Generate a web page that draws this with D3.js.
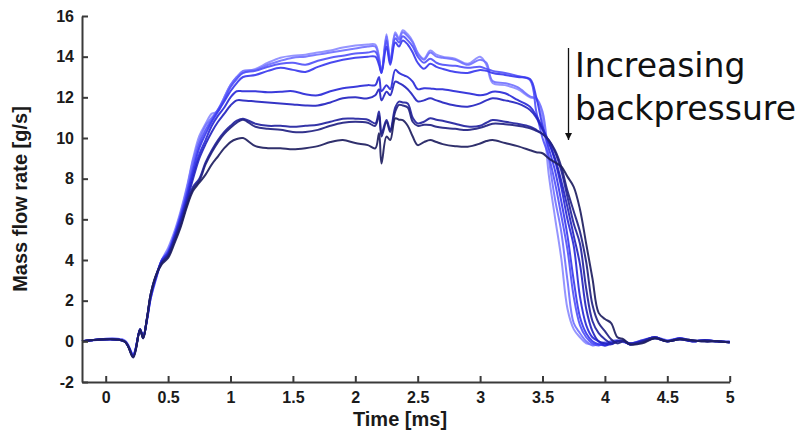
<!DOCTYPE html>
<html>
    <head>
        <meta charset="utf-8">
        <title>Mass flow rate vs time</title>
        <script src="https://d3js.org/d3.v7.min.js"></script>
        <style>
            body {
                margin: 0;
                background: #ffffff;
                overflow: hidden;
            }
            svg {
                display: block;
            }
            .axis path,
            .axis line {
                stroke: #3a3a3a;
                stroke-width: 2px;
            }
            .axis text {
                font-family: 'Liberation Sans', Arial, sans-serif;
                font-weight: bold;
                font-size: 16px;
                fill: #1a1a1a;
            }
            .title {
                font-family: 'Liberation Sans', Arial, sans-serif;
                font-weight: bold;
                font-size: 20px;
                fill: #1a1a1a;
            }
            .note {
                font-family: 'DejaVu Sans', Verdana, sans-serif;
                font-size: 33px;
                fill: #111;
            }
        </style>
    </head>
    <body>
        <script>
            // time axis [ms], shared by every run
            const time = [
                -0.19, 0.15, 0.22, 0.275, 0.3, 0.33, 0.36, 0.4, 0.45,
                0.5, 0.55, 0.6, 0.65, 0.7, 0.75, 0.8, 0.85, 0.9, 0.95, 1.0, 1.05, 1.1,
                1.2, 1.3, 1.4, 1.5, 1.6, 1.7, 1.8, 1.9, 2.0, 2.1,
                2.16, 2.19, 2.21, 2.25, 2.28, 2.32, 2.35, 2.38, 2.42, 2.46, 2.5, 2.55,
                2.6, 2.65, 2.7, 2.8, 2.9, 3.0, 3.05, 3.1, 3.2, 3.3, 3.4,
                3.45, 3.5, 3.55, 3.6, 3.65, 3.7, 3.75, 3.8, 3.85, 3.9, 3.95, 4.0, 4.05, 4.1,
                4.15, 4.2, 4.3, 4.4, 4.5, 4.6, 4.7, 4.8, 4.9, 5.0,
            ];

            // mass flow rate [g/s], lowest backpressure first
            const bp1 = [
                0, 0.05, -0.6, 0.5, 0.3, 1.0, 2.1, 3.0, 4.0,
                4.6, 5.4, 6.4, 7.6, 9.0, 10.1, 10.7, 11.2, 11.3, 12.0, 12.6, 13.0, 13.2,
                13.4, 13.7, 13.95, 14.05, 14.1, 14.2, 14.3, 14.45, 14.55, 14.6,
                14.6, 14.0, 13.2, 15.1, 13.7, 15.2, 14.9, 15.3, 15.1, 14.75, 14.2, 13.9,
                14.3, 14.1, 14.0, 13.9, 13.65, 14.0, 13.6, 12.7, 12.6, 12.4, 12.0,
                11.9, 11.0, 8.2, 6.1, 4.1, 1.6, 0.6, 0.2, -0.1, -0.15, -0.1, -0.05, -0.1, 0.0,
                -0.05, -0.1, 0.05, 0.15, 0.0, 0.1, 0.0, 0.05, 0.0, -0.05,
            ];
            const bp2 = [
                0, 0.05, -0.65, 0.55, 0.25, 1.0, 2.1, 3.0, 4.0,
                4.5, 5.3, 6.3, 7.5, 8.9, 9.9, 10.6, 11.0, 11.4, 12.0, 12.6, 13.0, 13.3,
                13.35, 13.6, 13.8, 13.95, 14.0, 14.1, 14.2, 14.3, 14.4, 14.5,
                14.5, 13.9, 13.2, 15.0, 13.8, 15.1, 14.85, 15.2, 15.0, 14.7, 14.15, 13.85,
                14.2, 14.0, 13.95, 13.85, 13.6, 13.85, 13.7, 12.8, 12.7, 12.5, 12.05,
                11.95, 11.3, 9.0, 7.0, 5.4, 3.0, 0.9, 0.4, 0.0, -0.2, -0.15, -0.1, -0.05, 0.0,
                0.0, -0.15, 0.0, 0.2, 0.0, 0.15, 0.0, 0.05, 0.0, -0.05,
            ];
            const bp3 = [
                0, 0.0, -0.65, 0.55, 0.25, 1.05, 2.1, 3.1, 4.0,
                4.4, 5.2, 6.2, 7.3, 8.6, 9.7, 10.4, 10.9, 11.4, 11.9, 12.5, 12.9, 13.2,
                13.3, 13.5, 13.65, 13.7, 13.6, 13.8, 13.95, 14.05, 14.15, 14.2,
                14.25, 13.8, 13.25, 14.8, 13.7, 14.9, 14.7, 15.0, 14.8, 14.5, 14.0, 13.7,
                13.9, 13.7, 13.6, 13.55, 13.45, 13.5, 13.4, 13.3, 13.2, 13.05, 12.85,
                11.3, 10.0, 9.1, 7.8, 6.2, 4.5, 2.2, 0.8, 0.2, -0.1, -0.2, -0.1, 0.0, 0.05,
                0.0, -0.1, 0.0, 0.2, 0.05, 0.15, 0.0, 0.05, 0.0, 0.0,
            ];
            const bp4 = [
                0, 0.0, -0.7, 0.55, 0.2, 1.05, 2.2, 3.1, 4.0,
                4.4, 5.2, 6.1, 7.2, 8.4, 9.5, 10.2, 10.8, 11.3, 11.8, 12.3, 12.7, 13.0,
                13.1, 13.3, 13.45, 13.35, 13.25, 13.5, 13.7, 13.85, 13.95, 14.0,
                14.0, 13.6, 13.2, 14.5, 13.6, 14.7, 14.5, 14.8, 14.6, 14.2, 13.7, 13.4,
                13.65, 13.5, 13.4, 13.25, 13.2, 13.35, 13.3, 13.2, 13.1, 13.0, 12.9,
                12.0, 10.6, 9.5, 8.4, 6.9, 5.2, 3.0, 1.2, 0.4, 0.0, -0.15, -0.2, -0.05, 0.0,
                0.0, -0.15, 0.0, 0.2, 0.0, 0.15, 0.05, 0.0, 0.0, -0.05,
            ];
            const bp5 = [
                0, 0.0, -0.7, 0.6, 0.2, 1.1, 2.2, 3.1, 3.95,
                4.3, 5.1, 6.0, 7.0, 8.2, 9.2, 9.9, 10.6, 11.1, 11.5, 12.0, 12.3, 12.3,
                12.3, 12.25, 12.28, 12.3, 12.15, 12.1, 12.3, 12.45, 12.52, 12.6,
                12.6, 13.0, 12.3, 12.6, 12.4, 13.35, 13.2, 13.1, 13.0, 12.77, 12.4, 12.45,
                12.44, 12.4, 12.4, 12.3, 12.2, 12.1, 12.15, 12.28, 12.2, 11.87, 11.54,
                11.1, 10.5, 9.8, 8.9, 7.6, 6.0, 4.7, 2.2, 0.8, 0.2, 0.0, -0.2, -0.1, 0.0,
                0.0, -0.1, 0.05, 0.2, 0.0, 0.1, 0.0, 0.05, 0.0, -0.05,
            ];
            const bp6 = [
                0, 0.0, -0.72, 0.6, 0.2, 1.1, 2.2, 3.1, 3.9,
                4.3, 5.0, 5.9, 6.9, 8.0, 9.0, 9.7, 10.3, 10.8, 11.2, 11.6, 11.85, 11.85,
                11.8, 11.75, 11.7, 11.65, 11.6, 11.6, 11.75, 11.95, 12.0, 11.95,
                12.1, 12.4, 11.85, 12.28, 12.1, 12.77, 12.7, 12.6, 12.4, 12.1, 11.8, 11.85,
                11.95, 11.85, 11.75, 11.6, 11.54, 11.7, 11.85, 11.95, 11.85, 11.7, 11.38,
                11.0, 10.4, 9.8, 9.0, 7.9, 6.6, 5.2, 3.8, 1.6, 0.5, 0.0, -0.1, -0.15, 0.0,
                0.0, -0.15, 0.0, 0.15, 0.0, 0.15, 0.0, 0.05, 0.0, -0.05,
            ];
            const bp7 = [
                0, 0.0, -0.75, 0.6, 0.15, 1.1, 2.3, 3.2, 3.9,
                4.2, 5.0, 5.8, 6.8, 7.6, 8.0, 8.8, 9.4, 9.9, 10.3, 10.6, 10.85, 10.95,
                10.7, 10.6, 10.6, 10.55, 10.6, 10.65, 10.8, 10.95, 10.95, 10.9,
                10.72, 11.3, 10.23, 10.88, 10.4, 11.5, 11.79, 11.75, 11.7, 11.0, 10.72, 10.8,
                10.97, 10.9, 10.85, 10.7, 10.56, 10.6, 10.75, 10.88, 10.8, 10.7, 10.56,
                10.4, 10.2, 9.9, 9.3, 8.4, 7.1, 5.8, 4.8, 2.6, 1.0, 0.4, 0.1, -0.1, 0.0,
                0.05, -0.1, 0.0, 0.2, 0.0, 0.1, 0.0, 0.05, 0.0, -0.05,
            ];
            const bp8 = [
                0, 0.0, -0.75, 0.6, 0.15, 1.1, 2.3, 3.2, 3.85,
                4.2, 4.9, 5.7, 6.7, 7.5, 7.9, 8.7, 9.3, 9.8, 10.2, 10.5, 10.75, 10.9,
                10.55, 10.45, 10.4, 10.3, 10.3, 10.4, 10.6, 10.75, 10.8, 10.75,
                10.6, 11.1, 10.07, 10.8, 10.3, 11.3, 11.63, 11.6, 11.5, 10.8, 10.6, 10.65,
                10.64, 10.55, 10.5, 10.45, 10.39, 10.5, 10.6, 10.7, 10.68, 10.6, 10.48,
                10.35, 10.2, 9.9, 9.4, 8.6, 7.4, 6.4, 5.4, 3.9, 1.8, 0.9, 0.5, 0.1, -0.1,
                0.0, -0.15, -0.05, 0.15, 0.0, 0.1, 0.05, 0.0, 0.0, -0.05,
            ];
            const bp9 = [
                0, 0.0, -0.8, 0.55, 0.15, 1.1, 2.3, 3.2, 3.8,
                4.1, 4.8, 5.6, 6.6, 7.4, 7.8, 8.2, 8.7, 9.1, 9.5, 9.8, 9.95, 10.0,
                9.6, 9.5, 9.5, 9.45, 9.5, 9.6, 9.8, 9.9, 9.75, 9.65,
                9.49, 10.23, 8.75, 10.07, 9.9, 10.97, 10.9, 10.88, 10.6, 10.07, 9.65, 9.8,
                9.9, 9.8, 9.7, 9.6, 9.57, 9.73, 9.85, 9.9, 9.75, 9.6, 9.4,
                9.3, 9.25, 9.0, 8.8, 8.6, 8.1, 7.6, 6.5, 4.8, 3.1, 1.4, 1.1, 0.9, 0.2,
                0.1, -0.15, -0.1, 0.15, 0.0, 0.1, 0.05, 0.0, 0.0, -0.05,
            ];

            const runs = [bp1, bp2, bp3, bp4, bp5, bp6, bp7, bp8, bp9];
            const runColors = ['#8c8cff', '#7272ff', '#5252f8', '#3a3aee', '#2a2ad8', '#2424c0', '#23239f', '#222282', '#1e1e60'];

            const xTicks = [0, 0.5, 1, 1.5, 2, 2.5, 3, 3.5, 4, 4.5, 5];
            const yTicks = [-2, 0, 2, 4, 6, 8, 10, 12, 14, 16];

            const width = 810;
            const height = 435;

            const x = d3.scaleLinear().domain([-0.19, 5]).range([82, 729.7]);
            const y = d3.scaleLinear().domain([-2, 16]).range([382, 16]);

            const svg = d3.select('body').append('svg').attr('width', width).attr('height', height);

            // runs
            const line = d3
                .line()
                .x((d, i) => x(time[i]))
                .y((d) => y(d))
                .curve(d3.curveCatmullRom.alpha(0.5));

            svg.append('g')
                .selectAll('path')
                .data(runs)
                .enter()
                .append('path')
                .attr('d', line)
                .attr('fill', 'none')
                .attr('stroke', (d, i) => runColors[i])
                .attr('stroke-width', 2)
                .attr('stroke-opacity', 0.92)
                .attr('stroke-linejoin', 'round');

            // axes, ticks point inwards; plain hyphen for negatives
            const plain = (d) => String(d);

            svg.append('g')
                .attr('class', 'axis')
                .attr('transform', `translate(0,${y(-2)})`)
                .call(d3.axisBottom(x).tickValues(xTicks).tickFormat(plain).tickSizeInner(-6).tickSizeOuter(0).tickPadding(10));

            svg.append('g')
                .attr('class', 'axis')
                .attr('transform', `translate(${x(-0.19)},0)`)
                .call(d3.axisLeft(y).tickValues(yTicks).tickFormat(plain).tickSizeInner(-6).tickSizeOuter(0).tickPadding(8));

            svg.append('text')
                .attr('class', 'title')
                .attr('x', 400)
                .attr('y', 426)
                .attr('text-anchor', 'middle')
                .text('Time [ms]');

            svg.append('text')
                .attr('class', 'title')
                .attr('transform', 'translate(27,199) rotate(-90)')
                .attr('text-anchor', 'middle')
                .text('Mass flow rate [g/s]');

            // annotation
            svg.append('defs')
                .append('marker')
                .attr('id', 'head')
                .attr('viewBox', '0 0 10 10')
                .attr('refX', 10)
                .attr('refY', 5)
                .attr('markerWidth', 7)
                .attr('markerHeight', 7)
                .attr('markerUnits', 'userSpaceOnUse')
                .attr('orient', 'auto')
                .append('path')
                .attr('d', 'M0,0L10,5L0,10Z')
                .attr('fill', '#111');

            svg.append('line')
                .attr('x1', 568.5)
                .attr('y1', 48)
                .attr('x2', 568.5)
                .attr('y2', 140)
                .attr('stroke', '#111')
                .attr('stroke-width', 1.3)
                .attr('marker-end', 'url(#head)');

            svg.append('text').attr('class', 'note').attr('x', 575).attr('y', 77).text('Increasing');
            svg.append('text').attr('class', 'note').attr('x', 575).attr('y', 120).text('backpressure');
        </script>
    </body>
</html>
